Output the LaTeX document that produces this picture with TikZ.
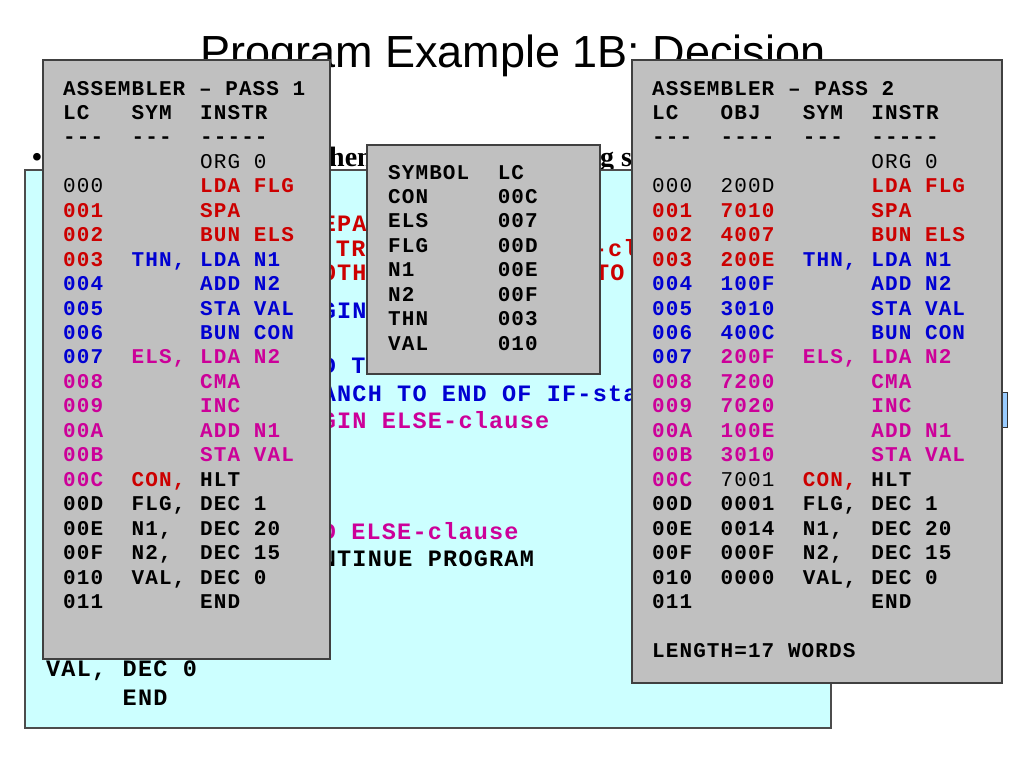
\documentclass[tikz,border=0pt]{standalone}
\usepackage{fontspec}
\setmainfont{Liberation Serif}
\newfontfamily\codefont[LetterSpace=5.2]{Liberation Mono}
\newfontfamily\titlefont{Liberation Sans}
\definecolor{cred}{RGB}{204,0,0}
\definecolor{cblue}{RGB}{0,0,210}
\definecolor{cmag}{RGB}{204,0,153}
\definecolor{boxgray}{RGB}{192,192,192}
\definecolor{cyanbg}{RGB}{204,255,255}
\definecolor{tabblue}{RGB}{153,204,255}
\tikzset{
  codeb/.style={anchor=base west, inner sep=0pt, font=\codefont\bfseries\fontsize{21}{24}\selectfont},
  coder/.style={anchor=base west, inner sep=0pt, font=\codefont\fontsize{21}{24}\selectfont},
  ccode/.style={anchor=base west, inner sep=0pt, font=\codefont\bfseries\fontsize{23.5}{28}\selectfont},
  bullettext/.style={anchor=base west, inner sep=0pt, font=\bfseries\fontsize{28}{30}\selectfont},
  graybox/.style={fill=boxgray, draw=black!75, line width=1.2pt},
  cyanbox/.style={fill=cyanbg, draw=black!70, line width=1.2pt},
}
% left box row: k, lc colour, lc, sym colour, sym, instr colour, instr
\newcommand\LRow[7]{%
  \node[codeb,text=#2] (la#1) at (63,{95+24.45*#1}) {#3};
  \node[codeb,text=#4] (lb#1) at (131.5,{95+24.45*#1}) {#5};
  \node[codeb,text=#6] (lc#1) at (200,{95+24.45*#1}) {#7};}
% right box row: k, c1, lc, c2, obj, c3, sym, c4, instr
\newcommand\RRow[9]{%
  \node[codeb,text=#2] (ra#1) at (652,{95+24.45*#1}) {#3};
  \node[codeb,text=#4] (rb#1) at (720.5,{95+24.45*#1}) {#5};
  \node[codeb,text=#6] (rc#1) at (802.7,{95+24.45*#1}) {#7};
  \node[codeb,text=#8] (rd#1) at (871.2,{95+24.45*#1}) {#9};}
% cyan row: name, y, colour, label, instr, comment
\newcommand\CRow[6]{%
  \node[ccode,text=#3] (ca#1) at (46,{#2+8}) {#4};
  \node[ccode,text=#3] (cb#1) at (122.5,{#2+8}) {#5};
  \node[ccode,text=#3] (cc#1) at (291,{#2+8}) {#6};}
\begin{document}
\begin{tikzpicture}[x=1pt,y=-1pt]
\useasboundingbox (0,0) rectangle (1024,768);
\fill[white] (0,0) rectangle (1024,768);

% title
\node[anchor=base, inner sep=0pt, font=\titlefont\fontsize{45}{50}\selectfont] (title) at (513,67) {Program Example 1B: Decision};

% bullet line (mostly hidden)
\node[bullettext] (bul) at (32,166) {\textbullet};
\node[bullettext] (bulA) at (308.8,166) {when};
\node[bullettext] (bulB) at (584.4,166) {ng s};

% cyan source box
\draw[cyanbox] (25,170) rectangle (831,728);
\CRow{0}{199}{black}{}{ORG 0}{}
\CRow{1}{223}{cred}{}{LDA FLG}{PREPARE TO TEST}
\CRow{2}{248}{cred}{}{SPA}{IF TRUE SKIP TO THEN-clause}
\CRow{3}{272}{cred}{}{BUN ELS}{}
\node[ccode,text=cred] (cother) at (321.6,280) {OTHERWISE, BRANCH TO ELSE-clause};
\CRow{4}{310}{cblue}{THN,}{LDA N1}{BEGIN THEN-clause}
\CRow{5}{337}{cblue}{}{ADD N2}{}
\CRow{6}{365}{cblue}{}{STA VAL}{END THEN-clause}
\CRow{7}{393}{cblue}{}{BUN CON}{BRANCH TO END OF IF-statement}
\CRow{8}{420}{cmag}{ELS,}{LDA N2}{BEGIN ELSE-clause}
\CRow{9}{448}{cmag}{}{CMA}{}
\CRow{10}{475}{cmag}{}{INC}{}
\CRow{11}{503}{cmag}{}{ADD N1}{}
\CRow{12}{531}{cmag}{}{STA VAL}{END ELSE-clause}
\CRow{13}{558}{black}{CON,}{HLT}{CONTINUE PROGRAM}
\CRow{14}{586}{black}{FLG,}{DEC 1}{}
\CRow{15}{613}{black}{N1,}{DEC 20}{}
\CRow{16}{641}{black}{N2,}{DEC 15}{}
\CRow{17}{668}{black}{VAL,}{DEC 0}{}
\CRow{18}{697}{black}{}{END}{}

% small tab behind right box
\draw[fill=tabblue, draw=black!80, line width=1pt] (990,392) rectangle (1007,427);

% left box: pass 1
\draw[graybox] (43,60) rectangle (330,659);
\node[codeb] (lhead) at (63,95) {ASSEMBLER – PASS 1};
\LRow{1}{black}{LC}{black}{SYM}{black}{INSTR}
\LRow{2}{black}{-{}-{}-}{black}{-{}-{}-}{black}{-{}-{}-{}-{}-}
\node[coder] (lorg) at (200,{95+24.45*3}) {ORG 0};
\node[coder] (l000) at (63,{95+24.45*4}) {000};
\node[codeb,text=cred] (lldaflg) at (200,{95+24.45*4}) {LDA FLG};
\LRow{5}{cred}{001}{cred}{}{cred}{SPA}
\LRow{6}{cred}{002}{cred}{}{cred}{BUN ELS}
\LRow{7}{cred}{003}{cblue}{THN,}{cblue}{LDA N1}
\LRow{8}{cblue}{004}{cblue}{}{cblue}{ADD N2}
\LRow{9}{cblue}{005}{cblue}{}{cblue}{STA VAL}
\LRow{10}{cblue}{006}{cblue}{}{cblue}{BUN CON}
\LRow{11}{cblue}{007}{cmag}{ELS,}{cmag}{LDA N2}
\LRow{12}{cmag}{008}{cmag}{}{cmag}{CMA}
\LRow{13}{cmag}{009}{cmag}{}{cmag}{INC}
\LRow{14}{cmag}{00A}{cmag}{}{cmag}{ADD N1}
\LRow{15}{cmag}{00B}{cmag}{}{cmag}{STA VAL}
\LRow{16}{cmag}{00C}{cred}{CON,}{black}{HLT}
\LRow{17}{black}{00D}{black}{FLG,}{black}{DEC 1}
\LRow{18}{black}{00E}{black}{N1,}{black}{DEC 20}
\LRow{19}{black}{00F}{black}{N2,}{black}{DEC 15}
\LRow{20}{black}{010}{black}{VAL,}{black}{DEC 0}
\LRow{21}{black}{011}{black}{}{black}{END}

% middle box: symbol table
\draw[graybox] (367,145) rectangle (600,374);
\foreach \s/\v [count=\j from 0] in {SYMBOL/LC,CON/00C,ELS/007,FLG/00D,N1/00E,N2/00F,THN/003,VAL/010}{
  \node[codeb] (sa\j) at (388,{179+24.45*\j}) {\s};
  \node[codeb] (sb\j) at (497.6,{179+24.45*\j}) {\v};
}

% right box: pass 2
\draw[graybox] (632,60) rectangle (1002,683);
\node[codeb] (rhead) at (652,95) {ASSEMBLER – PASS 2};
\RRow{1}{black}{LC}{black}{OBJ}{black}{SYM}{black}{INSTR}
\RRow{2}{black}{-{}-{}-}{black}{-{}-{}-{}-}{black}{-{}-{}-}{black}{-{}-{}-{}-{}-}
\node[coder] (rorg) at (871.2,{95+24.45*3}) {ORG 0};
\node[coder] (r000) at (652,{95+24.45*4}) {000};
\node[coder] (r200d) at (720.5,{95+24.45*4}) {200D};
\node[codeb,text=cred] (rldaflg) at (871.2,{95+24.45*4}) {LDA FLG};
\RRow{5}{cred}{001}{cred}{7010}{cred}{}{cred}{SPA}
\RRow{6}{cred}{002}{cred}{4007}{cred}{}{cred}{BUN ELS}
\RRow{7}{cred}{003}{cred}{200E}{cblue}{THN,}{cblue}{LDA N1}
\RRow{8}{cblue}{004}{cblue}{100F}{cblue}{}{cblue}{ADD N2}
\RRow{9}{cblue}{005}{cblue}{3010}{cblue}{}{cblue}{STA VAL}
\RRow{10}{cblue}{006}{cblue}{400C}{cblue}{}{cblue}{BUN CON}
\RRow{11}{cblue}{007}{cmag}{200F}{cmag}{ELS,}{cmag}{LDA N2}
\RRow{12}{cmag}{008}{cmag}{7200}{cmag}{}{cmag}{CMA}
\RRow{13}{cmag}{009}{cmag}{7020}{cmag}{}{cmag}{INC}
\RRow{14}{cmag}{00A}{cmag}{100E}{cmag}{}{cmag}{ADD N1}
\RRow{15}{cmag}{00B}{cmag}{3010}{cmag}{}{cmag}{STA VAL}
\node[codeb,text=cmag] (ra16) at (652,{95+24.45*16}) {00C};
\node[coder] (rb16) at (720.5,{95+24.45*16}) {7001};
\node[codeb,text=cred] (rc16) at (802.7,{95+24.45*16}) {CON,};
\node[codeb] (rd16) at (871.2,{95+24.45*16}) {HLT};
\RRow{17}{black}{00D}{black}{0001}{black}{FLG,}{black}{DEC 1}
\RRow{18}{black}{00E}{black}{0014}{black}{N1,}{black}{DEC 20}
\RRow{19}{black}{00F}{black}{000F}{black}{N2,}{black}{DEC 15}
\RRow{20}{black}{010}{black}{0000}{black}{VAL,}{black}{DEC 0}
\RRow{21}{black}{011}{black}{}{black}{}{black}{END}
\node[codeb] (rlen) at (652,{95+24.45*23}) {LENGTH=17 WORDS};
\end{tikzpicture}
\end{document}
